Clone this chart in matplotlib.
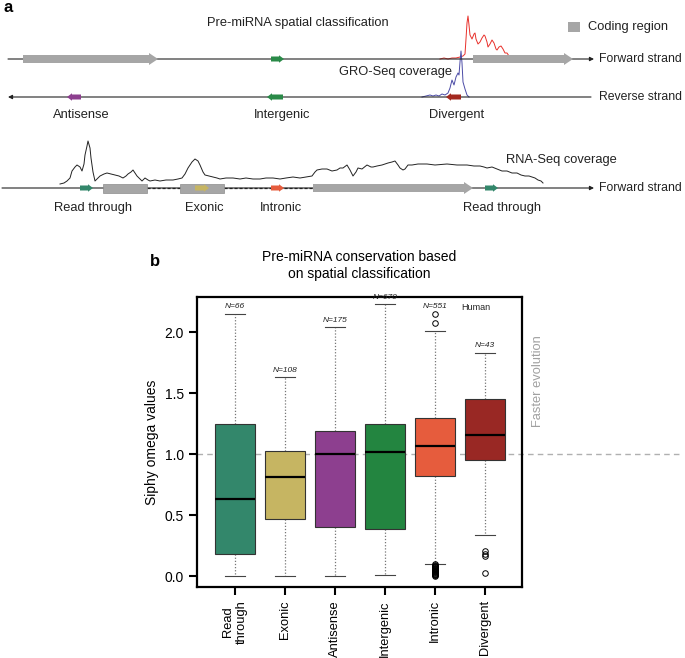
import matplotlib
matplotlib.use("Agg")
import matplotlib.pyplot as plt
from matplotlib.patches import FancyArrow, Rectangle
from matplotlib.transforms import blended_transform_factory

plt.rcParams['font.family'] = ['Liberation Sans', 'DejaVu Sans']

# ---------------- panel b data ----------------
categories = ['Read\nthrough', 'Exonic', 'Antisense', 'Intergenic', 'Intronic', 'Divergent']
counts = [66, 108, 175, 670, 551, 43]
q1 = [0.18, 0.47, 0.40, 0.385, 0.82, 0.95]
med = [0.63, 0.81, 1.00, 1.02, 1.07, 1.16]
q3 = [1.25, 1.03, 1.19, 1.25, 1.30, 1.45]
whis_lo = [0.0, 0.0, 0.0, 0.01, 0.10, 0.34]
whis_hi = [2.15, 1.63, 2.04, 2.23, 2.01, 1.83]
fliers = [
    [],
    [],
    [],
    [],
    [2.08, 2.15, 0.095, 0.09, 0.085, 0.08, 0.075, 0.07, 0.065, 0.06, 0.055, 0.05,
     0.045, 0.04, 0.035, 0.03, 0.025, 0.02, 0.015, 0.01, 0.005, 0.0],
    [0.205, 0.18, 0.165, 0.025],
]
box_colors = ['#33876b', '#c6b562', '#8d3f8f', '#238540', '#e65c3d', '#992824']

# ---------------- panel a data (schematic, pixel units) ----------------
# strands: (x_start, x_end, y)
strands = [(8, 594, 59), (591, 8, 97), (2, 594, 188)]
strand_labels = ['Forward strand', 'Reverse strand', 'Forward strand']
# coding regions drawn as arrows: (x_start, x_end, y)
coding_arrows = [(23, 158, 59), (473, 573, 59), (313, 473, 188)]
# coding regions drawn as boxes (exons): (x_start, x_end, y)
coding_boxes = [(103, 147, 188), (180, 224, 188)]
introns = [(147, 180, 188), (224, 313, 188)]
# pre-miRNAs: (x_start, x_end, y, colour)
mirnas = [(271, 284, 59, '#2a8a48'), (81, 67, 97, '#8d3f8f'), (283, 267, 97, '#2a8a48'),
          (461, 446, 97, '#a3281f'), (80, 93, 188, '#33876b'), (195, 209, 188, '#c6b562'),
          (271, 284, 188, '#e65c3d'), (485, 498, 188, '#33876b')]
mirna_labels = [('Antisense', 81, 115), ('Intergenic', 282, 115), ('Divergent', 457, 115),
                ('Read through', 93, 208), ('Exonic', 204, 208), ('Intronic', 281, 208),
                ('Read through', 502, 208)]

# GRO-Seq coverage, forward strand (x, height above strand)
gro_fwd_x = [440, 444, 448, 452, 456, 460, 463, 465, 466, 467, 468, 469, 470, 472, 474, 475,
             476, 478, 480, 482, 484, 485, 487, 488, 490, 492, 494, 496, 497, 499, 501, 503,
             505, 507, 509, 512, 516, 520, 524, 527]
gro_fwd_h = [0, 1, 0, 1, 1, 2, 3, 5, 20, 36, 43, 34, 24, 20, 25, 26, 20, 15, 17, 21, 24,
             23, 17, 12, 15, 19, 16, 10, 9, 12, 13, 10, 6, 6, 3, 2, 2, 1, 1, 0]
# GRO-Seq coverage, reverse strand
gro_rev_x = [422, 426, 430, 433, 436, 439, 442, 445, 448, 450, 452, 454, 456, 458, 459,
             460, 461, 462, 463, 465, 467, 469]
gro_rev_h = [0, 1, 2, 1, 2, 1, 3, 2, 4, 9, 17, 12, 20, 24, 22, 35, 46, 34, 15, 8, 2, 0]
# RNA-Seq coverage on the lower forward strand
rna_x = [60, 64, 67, 70, 72, 75, 77, 80, 82, 84, 85, 87, 88, 90, 91, 93, 95, 98, 100, 104,
         107, 111, 115, 119, 123, 126, 128, 131, 133, 135, 137, 140, 142, 145, 148, 150,
         155, 160, 166, 173, 178, 182, 185, 188, 192, 195, 198, 200, 203, 205, 209, 213,
         217, 220, 226, 233, 240, 246, 253, 260, 266, 273, 280, 286, 293, 300, 306, 312,
         315, 317, 322, 327, 332, 337, 340, 343, 347, 350, 353, 356, 358, 362, 367, 371,
         373, 377, 382, 385, 388, 392, 395, 398, 400, 403, 405, 408, 412, 418, 427, 435,
         447, 457, 467, 474, 480, 484, 487, 492, 497, 502, 507, 512, 517, 521, 525, 529,
         532, 535, 538, 541, 543]
rna_h = [2, 3, 5, 8, 15, 19, 21, 19, 15, 22, 31, 40, 45, 38, 28, 14, 5, 8, 10, 12, 13,
         12, 11, 10, 8, 10, 12, 14, 16, 13, 10, 7, 5, 8, 6, 5, 6, 5, 6, 6, 7, 8, 12, 18, 24,
         27, 25, 21, 14, 11, 10, 9, 8, 7, 8, 8, 7, 8, 7, 7, 8, 8, 7, 8, 9, 8, 9, 10, 14, 16,
         17, 17, 15, 16, 18, 18, 21, 16, 10, 14, 18, 17, 21, 19, 19, 20, 21, 22, 23, 24,
         25, 21, 18, 16, 17, 21, 21, 22, 22, 21, 22, 21, 21, 20, 20, 19, 18, 19, 17, 15, 15,
         13, 13, 11, 10, 10, 9, 8, 6, 5, 3]

fig = plt.figure(figsize=(6.85, 6.58), dpi=100)

# ---------------- panel a ----------------
sch = fig.add_axes([0, 0, 1, 1])
sch.set_xlim(0, 685)
sch.set_ylim(658, 0)
sch.axis('off')

for (x0, x1, y), lab in zip(strands, strand_labels):
    sch.annotate('', xy=(x1, y), xytext=(x0, y),
                 arrowprops=dict(arrowstyle='-|>', lw=0.8, color='#222222',
                                 mutation_scale=6, shrinkA=0, shrinkB=0))
    sch.text(599, y, lab, fontsize=8.8, va='center', ha='left', color='#222222')

# white-out the strand line under the exon/intron part, then redraw introns dashed
sch.plot([103, 313], [188, 188], color='white', lw=2, zorder=2)
for x0, x1, y in introns:
    sch.plot([x0, x1], [y, y], color='#222222', lw=0.9, ls=(0, (2.5, 1.5)), zorder=3)

for x0, x1, y in coding_arrows:
    sch.add_patch(FancyArrow(x0, y, x1 - x0, 0, width=8, head_width=12, head_length=9,
                             length_includes_head=True, color='#a6a6a6', lw=0, zorder=3))
for x0, x1, y in coding_boxes:
    sch.add_patch(Rectangle((x0, y - 4.5), x1 - x0, 9, facecolor='#a6a6a6',
                            edgecolor='#8c8c8c', lw=0.5, zorder=3))
for x0, x1, y, c in mirnas:
    sch.add_patch(FancyArrow(x0, y, x1 - x0, 0, width=5, head_width=7.5, head_length=5,
                             length_includes_head=True, color=c, lw=0, zorder=4))
for lab, x, y in mirna_labels:
    sch.text(x, y, lab, fontsize=9.3, ha='center', va='center', color='#222222')

sch.plot(gro_fwd_x, [59 - h for h in gro_fwd_h], color='#e8302a', lw=0.7, zorder=2)
sch.plot(gro_rev_x, [97 - h for h in gro_rev_h], color='#4b4ba6', lw=0.7, zorder=2)
sch.plot(rna_x, [186 - h for h in rna_h], color='#222222', lw=0.7, zorder=2)

sch.add_patch(Rectangle((568, 22), 12, 10, facecolor='#a6a6a6', edgecolor='none'))
sch.text(588, 27, 'Coding region', fontsize=9.3, va='center', ha='left', color='#222222')
sch.text(298, 23, 'Pre-miRNA spatial classification', fontsize=9.3, ha='center',
         va='center', color='#222222')
sch.text(396, 72, 'GRO-Seq coverage', fontsize=9.3, ha='center', va='center', color='#222222')
sch.text(561, 160, 'RNA-Seq coverage', fontsize=9.3, ha='center', va='center', color='#222222')
sch.text(4, 8, 'a', fontsize=12, fontweight='bold', va='center')
sch.text(150, 262, 'b', fontsize=12, fontweight='bold', va='center')

# ---------------- panel b ----------------
ax = fig.add_axes([197 / 685, 1 - 587 / 658, 325 / 685, 290 / 658])
positions = list(range(1, len(categories) + 1))
stats = []
for i in range(len(categories)):
    stats.append(dict(med=med[i], q1=q1[i], q3=q3[i], whislo=whis_lo[i],
                      whishi=whis_hi[i], fliers=fliers[i], label=categories[i]))

bp = ax.bxp(stats, positions=positions, widths=0.8, patch_artist=True,
            boxprops=dict(edgecolor='#333333', lw=0.8),
            medianprops=dict(color='black', lw=1.6),
            whiskerprops=dict(color='#777777', lw=0.9, ls=(0, (1, 1.5))),
            capprops=dict(color='#444444', lw=0.8),
            flierprops=dict(marker='o', mfc='none', mec='black', ms=4, mew=0.7))
for patch, c in zip(bp['boxes'], box_colors):
    patch.set_facecolor(c)
    patch.set_zorder(3)
for line in bp['medians']:
    line.set_zorder(4)

trans = blended_transform_factory(ax.transAxes, ax.transData)
ax.plot([0, (680 - 197) / 325], [1.0, 1.0], transform=trans, clip_on=False,
        color='#b0b0b0', lw=1.0, ls=(0, (4, 3)), zorder=1)

for pos, n, hi, fl in zip(positions, counts, whis_hi, fliers):
    top = max([hi] + fl)
    ax.text(pos, top + 0.03, f'N={n}', fontsize=6, style='italic', ha='center',
            va='bottom', color='#222222')

ax.text(5.52, 2.2, 'Human', fontsize=6.5, ha='left', va='center', color='#222222')
ax.text(7.06, 1.6, 'Faster evolution', rotation=90, fontsize=9.3, color='#a0a0a0',
        ha='center', va='center', clip_on=False)

ax.set_xlim(0.24, 6.74)
ax.set_ylim(-0.09, 2.29)
ax.set_yticks([0.0, 0.5, 1.0, 1.5, 2.0])
ax.set_yticklabels(['0.0', '0.5', '1.0', '1.5', '2.0'])
ax.set_xticks(positions)
ax.set_xticklabels(categories, rotation=90, ha='center', va='top', multialignment='center')
ax.tick_params(axis='both', length=6, width=1.5, labelsize=10, direction='out')
ax.tick_params(axis='x', labelsize=9.3)
for sp in ax.spines.values():
    sp.set_linewidth(1.6)
ax.set_ylabel('Siphy omega values', fontsize=10)
ax.set_title('Pre-miRNA conservation based\non spatial classification', fontsize=10,
             pad=14)

plt.savefig('out.png', dpi=100)
plt.close()
